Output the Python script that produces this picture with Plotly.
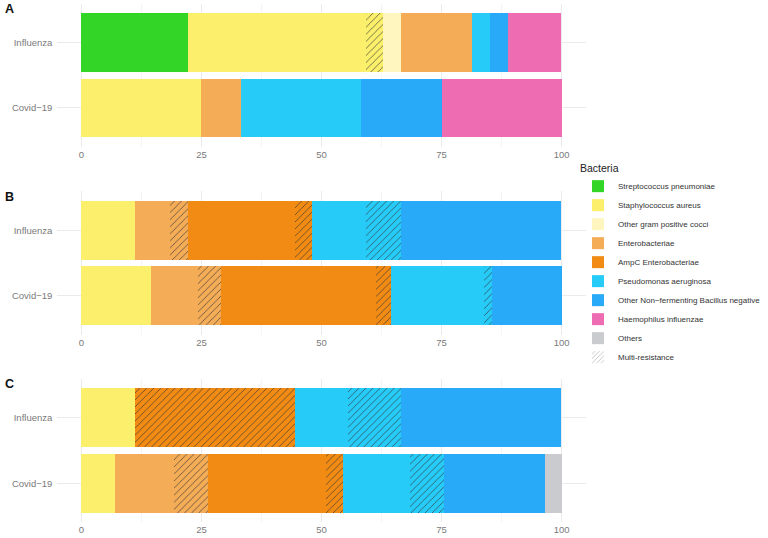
import plotly.graph_objects as go

# ---------------- data ----------------
categories = ["Covid−19", "Influenza"]

bacteria = [
    "Streptococcus pneumoniae",
    "Staphylococcus aureus",
    "Other gram positive cocci",
    "Enterobacteriae",
    "AmpC Enterobacteriae",
    "Pseudomonas aeruginosa",
    "Other Non−fermenting Bacillus negative",
    "Haemophilus influenzae",
    "Others",
]
bacteria_colors = [
    "#33D626", "#FBEF6B", "#FEF6BE", "#F4AC57", "#F28B14",
    "#26CBF8", "#29AAF8", "#EE6DB2", "#C9CBCE",
]

# stacking segments (bacterium index, multi-resistant flag)
segment_bacterium = [0, 1, 1, 2, 3, 3, 4, 4, 5, 5, 6, 7, 8]
segment_mr = [False, False, True, False, False, True, False, True, False, True, False, False, False]

panel_labels = ["A", "B", "C"]

influenza_A = [22.2, 37.0, 3.7, 3.7, 14.8, 0, 0, 0, 3.7, 0, 3.7, 11.1, 0]
covid_A = [0, 25.0, 0, 0, 8.3, 0, 0, 0, 25.0, 0, 16.7, 25.0, 0]

influenza_B = [0, 11.1, 0, 0, 7.4, 3.7, 22.2, 3.7, 11.1, 7.4, 33.3, 0, 0]
covid_B = [0, 14.5, 0, 0, 9.7, 4.8, 32.3, 3.2, 19.4, 1.6, 14.5, 0, 0]

influenza_C = [0, 11.1, 0, 0, 0, 0, 0, 33.3, 11.1, 11.1, 33.3, 0, 0]
covid_C = [0, 7.0, 0, 0, 12.3, 7.0, 24.6, 3.5, 14.0, 7.0, 21.1, 0, 3.5]

x_ticks = [0, 25, 50, 75, 100]

panels = [(covid_A, influenza_A), (covid_B, influenza_B), (covid_C, influenza_C)]

# ---------------- figure ----------------
W, H = 768, 538
fig = go.Figure()

HATCH = dict(shape="/", fgcolor="#333333", fgopacity=0.8, size=5, solidity=0.16)
legend_done = set()

for p, (cov, inf) in enumerate(panels):
    ax = "" if p == 0 else str(p + 1)
    for s in range(len(segment_bacterium)):
        b = segment_bacterium[s]
        vals = [cov[s], inf[s]]
        if vals == [0, 0]:
            continue
        marker = dict(color=bacteria_colors[b], line=dict(width=0))
        if segment_mr[s]:
            marker["pattern"] = HATCH
        show = (not segment_mr[s]) and (b not in legend_done)
        if show:
            legend_done.add(b)
        fig.add_trace(go.Bar(
            x=vals, y=categories, orientation="h",
            name=bacteria[b], marker=marker,
            legendgroup=bacteria[b], legendrank=b + 1,
            showlegend=show, xaxis="x" + ax, yaxis="y" + ax,
            hoverinfo="x+name",
        ))

# legend key for multi-resistance hatch
fig.add_trace(go.Bar(
    x=[None], y=[None], orientation="h", name="Multi-resistance",
    marker=dict(color="white", line=dict(width=0),
                pattern=dict(shape="/", fgcolor="#555555", size=4, solidity=0.2)),
    legendrank=20, showlegend=True, xaxis="x", yaxis="y",
))

# panel geometry (pixels)
x_left, x_right = 57.3, 585.7
panel_px = [(3.6, 147.0), (191.0, 335.0), (378.6, 522.4)]

grid = "#EBEBEB"
tickfont = dict(family="Liberation Sans, Arial, sans-serif", size=9.5, color="#7a7a7a")

layout = dict(
    width=W, height=H,
    margin=dict(l=0, r=0, t=0, b=0, autoexpand=False),
    plot_bgcolor="white", paper_bgcolor="white",
    barmode="stack", bargap=0.1,
    font=dict(family="Liberation Sans, Arial, sans-serif", color="#333333"),
    legend=dict(
        x=578 / W, y=1 - 158 / H, xanchor="left", yanchor="top",
        title=dict(text="Bacteria", font=dict(size=10.5, color="#222222")),
        font=dict(size=8, color="#333333"),
        traceorder="normal", itemclick=False, bgcolor="rgba(0,0,0,0)",
        tracegroupgap=0,
    ),
    showlegend=True,
)

for p, (top, bot) in enumerate(panel_px):
    ax = "" if p == 0 else str(p + 1)
    layout["xaxis" + ax] = dict(
        domain=[x_left / W, x_right / W], anchor="y" + ax,
        range=[-5, 105], tickvals=x_ticks, ticktext=[str(v) for v in x_ticks],
        showgrid=True, gridcolor=grid, gridwidth=1,
        minor=dict(showgrid=True, gridcolor="#F4F4F4", gridwidth=0.6, dtick=12.5, tick0=0),
        zeroline=False, showline=False, ticks="", tickfont=tickfont,
        automargin=False,
    )
    layout["yaxis" + ax] = dict(
        domain=[1 - bot / H, 1 - top / H], anchor="x" + ax,
        type="category", categoryorder="array", categoryarray=categories,
        range=[-0.6, 1.6], showgrid=True, gridcolor=grid, gridwidth=1,
        zeroline=False, showline=False, ticks="", tickfont=tickfont,
        ticklabelstandoff=4, automargin=False,
    )

fig.update_layout(**layout)

# panel tags
tag_y = [9, 196.5, 384]
for lab, ty in zip(panel_labels, tag_y):
    fig.add_annotation(
        text="<b>%s</b>" % lab, xref="paper", yref="paper",
        x=3 / W, y=1 - ty / H, xanchor="left", yanchor="middle",
        showarrow=False, font=dict(size=12.5, color="#111111"),
    )

fig.write_html(
    "out.html",
    config={"displayModeBar": False},
    post_script="document.body.style.margin='0px';document.body.style.padding='0px';"
                "document.body.style.overflow='hidden';",
)
